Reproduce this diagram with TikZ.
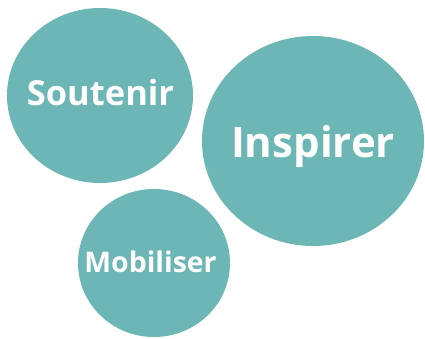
\documentclass[tikz,border=0pt]{standalone}
\usepackage{fontspec}
\setmainfont{Open Sans}
\definecolor{teal1}{RGB}{108,182,182}
\begin{document}
\begin{tikzpicture}[x=1pt,y=1pt,
  bubble/.style={fill=teal1,draw=none},
  lbl/.style={text=white,font=\bfseries,anchor=base,inner sep=0pt}]
\useasboundingbox (0,0) rectangle (425,338);
\fill[bubble] (100,242.5) ellipse [x radius=93, y radius=87.5];
\fill[bubble] (313,197) ellipse [x radius=111, y radius=105];
\fill[bubble] (154,75) ellipse [x radius=76, y radius=74];
\node[lbl,font=\bfseries\fontsize{34.5}{38}\selectfont] (s) at (100.5,232.5) {Soutenir};
\node[lbl,font=\bfseries\fontsize{42}{46}\selectfont] (i) at (313,181) {Inspirer};
\node[lbl,font=\bfseries\fontsize{28.4}{32}\selectfont] (m) at (150.5,66) {Mobiliser};
\end{tikzpicture}
\end{document}
